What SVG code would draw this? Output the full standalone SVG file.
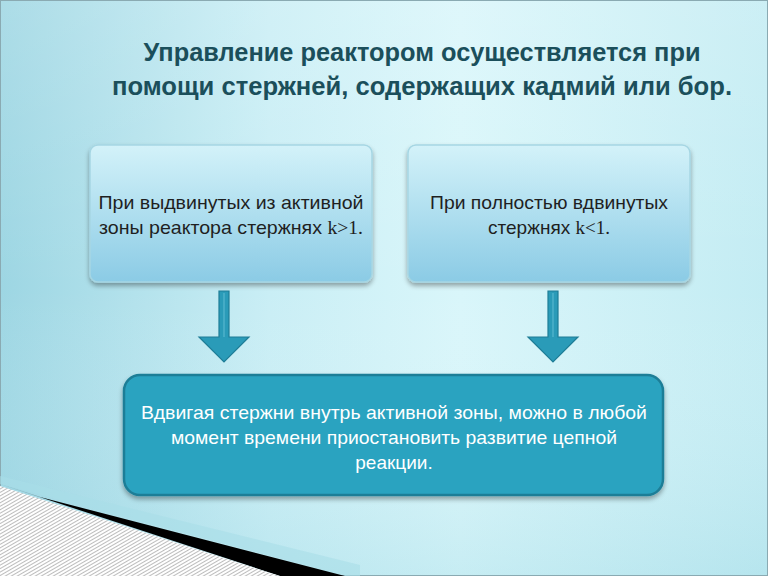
<svg xmlns="http://www.w3.org/2000/svg" width="768" height="576" viewBox="0 0 768 576">
<defs>
<linearGradient id="bg" x1="0" y1="0" x2="1" y2="0">
<stop offset="0" stop-color="#9dd6e3"/>
<stop offset="0.35" stop-color="#c9eef5"/>
<stop offset="0.6" stop-color="#d9f6fa"/>
<stop offset="1" stop-color="#c3ecf3"/>
</linearGradient>
<linearGradient id="bgv" x1="0" y1="0" x2="0" y2="1">
<stop offset="0" stop-color="#ffffff" stop-opacity="0.15"/>
<stop offset="0.5" stop-color="#ffffff" stop-opacity="0"/>
<stop offset="1" stop-color="#8fd0de" stop-opacity="0.25"/>
</linearGradient>
<linearGradient id="boxg" x1="0" y1="0" x2="0" y2="1">
<stop offset="0" stop-color="#d3f2f9"/>
<stop offset="1" stop-color="#8bcbe5"/>
</linearGradient>
<pattern id="hatch" width="3" height="3" patternUnits="userSpaceOnUse" patternTransform="rotate(60)">
<rect width="3" height="3" fill="#ffffff"/>
<rect width="1" height="3" fill="#bcbcbc"/>
</pattern>
<filter id="sh" x="-10%" y="-10%" width="120%" height="130%">
<feGaussianBlur in="SourceAlpha" stdDeviation="2.5"/>
<feOffset dx="0" dy="3" result="b"/>
<feComponentTransfer><feFuncA type="linear" slope="0.35"/></feComponentTransfer>
<feMerge><feMergeNode/><feMergeNode in="SourceGraphic"/></feMerge>
</filter>
<style>
.title{font-family:"Liberation Sans",Arial,sans-serif;font-weight:bold;font-size:25px;fill:#1b4f5b;text-anchor:middle}
.bt{font-family:"Liberation Sans",Arial,sans-serif;font-size:19px;fill:#1f1f1f;text-anchor:middle}
.ser{font-family:"Liberation Serif","Times New Roman",serif}
.wt{font-family:"Liberation Sans",Arial,sans-serif;font-size:19px;fill:#ffffff;text-anchor:middle}
.box{fill:url(#boxg);stroke:#a6d6e3;stroke-width:1.5}
.arrow{fill:#2a9bb8;stroke:#1f7d96;stroke-width:1.2}
</style>
</defs>
<rect width="768" height="576" fill="url(#bg)"/>
<rect width="768" height="576" fill="url(#bgv)"/>
<rect x="0.5" y="0.5" width="767" height="575" fill="none" stroke="#8aaab2" stroke-width="1"/>

<g id="title">
<text class="title" x="422" y="61" textLength="557" lengthAdjust="spacingAndGlyphs">Управление реактором осуществляется при</text>
<text class="title" x="422" y="95" textLength="620" lengthAdjust="spacingAndGlyphs">помощи стержней, содержащих кадмий или бор.</text>
</g>

<g id="box1">
<rect class="box" x="90" y="145" width="282" height="137" rx="8" filter="url(#sh)"/>
<text class="bt" x="231" y="209" textLength="265" lengthAdjust="spacingAndGlyphs">При выдвинутых из активной</text>
<text class="bt" x="231" y="234" textLength="264" lengthAdjust="spacingAndGlyphs">зоны реактора стержнях <tspan class="ser">k&gt;1.</tspan></text>
</g>

<g id="box2">
<rect class="box" x="408" y="145" width="282" height="137" rx="8" filter="url(#sh)"/>
<text class="bt" x="549" y="209" textLength="238" lengthAdjust="spacingAndGlyphs">При полностью вдвинутых</text>
<text class="bt" x="549" y="234">стержнях <tspan class="ser">k&lt;1.</tspan></text>
</g>

<g id="connectors">
<path class="arrow" d="M219,291 L229,291 L229,337 L249,337 L224,362 L199,337 L219,337 Z"/>
<line x1="224" y1="293" x2="224" y2="337" stroke="#5fbcd3" stroke-width="1"/>
<path class="arrow" d="M548,291 L558,291 L558,337 L578,337 L553,362 L528,337 L548,337 Z"/>
<line x1="553" y1="293" x2="553" y2="337" stroke="#5fbcd3" stroke-width="1"/>
</g>

<g id="box3">
<rect x="124" y="375" width="539" height="120" rx="16" fill="#2ba3c0" stroke="#1f7e97" stroke-width="2.5" filter="url(#sh)"/>
<text class="wt" x="394" y="419" textLength="506" lengthAdjust="spacingAndGlyphs">Вдвигая стержни внутрь активной зоны, можно в любой</text>
<text class="wt" x="394" y="444" textLength="446" lengthAdjust="spacingAndGlyphs">момент времени приостановить развитие цепной</text>
<text class="wt" x="394" y="469">реакции.</text>
</g>

<g id="curl">
<polygon points="0,476 360,565 360,576 345,576 0,484" fill="#a9dde8" opacity="0.6"/>
<polygon points="0,484 40,497 345,576 280,576" fill="#000000"/>
<polygon points="0,486 280,576 0,576" fill="url(#hatch)"/>
</g>
</svg>
